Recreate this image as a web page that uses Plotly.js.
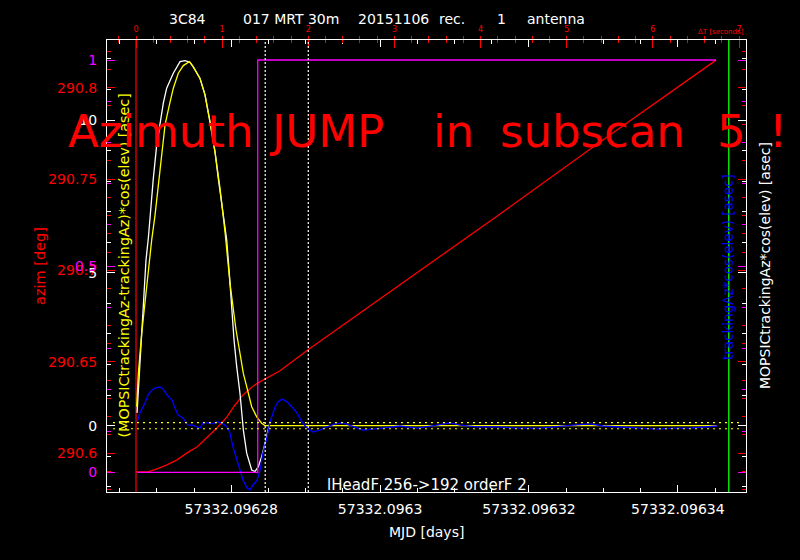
<!DOCTYPE html>
<html><head><meta charset="utf-8">
<script src="https://cdn.plot.ly/plotly-3.0.1.min.js"></script>
<style>html,body{margin:0;padding:0;background:#000;}#chart{width:800px;height:560px;}</style>
</head><body><div id="chart"></div>
<script>
// ---------- DATA (time in seconds since start of subscan, ΔT) ----------
const mjdAtT0 = 57332.0962672;            // MJD at ΔT = 0
const mjdTickValues = [57332.09628, 57332.09630, 57332.09632, 57332.09634];
const mjdTickLabels = ["57332.09628", "57332.0963", "57332.09632", "57332.09634"];
const mjdMinorStep = 0.000005;            // days

const azTickValues = [290.6, 290.65, 290.7, 290.75, 290.8];
const azTickLabels = ["290.6", "290.65", "290.7", "290.75", "290.8"];
const offTickValues = [0, 5, 10];
const offTickLabels = ["0", "5", "10"];
const flagTickValues = [0, 0.5, 1];
const flagTickLabels = ["0", "0.5", "1"];

// azimuth [deg]
const azT   = [0, 0.139, 0.244, 0.360, 0.476, 0.592, 0.708, 0.824, 0.940, 1.056, 1.149, 1.242, 1.347, 1.416, 1.521, 1.614, 1.672, 1.997, 2.159, 3.065, 4.226, 5.387, 6.733];
const azDeg = [290.5898, 290.5898, 290.5914, 290.5936, 290.5964, 290.6002, 290.6034, 290.6084, 290.6138, 290.6199, 290.6264, 290.6319, 290.6363, 290.6385, 290.6412, 290.6440, 290.6451, 290.6566, 290.6620, 290.6921, 290.7309, 290.7703, 290.8151];

// MOPSICtrackingAz*cos(elev) [asec]  (white)
const mopT = [0.012, 0.038, 0.066, 0.085, 0.116, 0.143, 0.163, 0.201, 0.240, 0.279, 0.317, 0.356, 0.433, 0.511, 0.569, 0.627, 0.665, 0.743, 0.801, 0.859, 0.917, 0.955, 0.998, 1.053, 1.083, 1.111, 1.138, 1.169, 1.207, 1.246, 1.285, 1.343, 1.381, 1.420, 1.459, 1.498, 1.536, 1.556];
const mopV = [0.42, 1.72, 3.13, 3.88, 5.42, 6.13, 6.89, 8.09, 9.18, 9.94, 10.55, 11.04, 11.53, 11.91, 11.94, 11.89, 11.74, 11.36, 10.82, 9.94, 8.96, 8.09, 7.12, 6.07, 4.99, 3.89, 2.80, 1.93, 1.06, -0.14, -0.90, -1.45, -1.50, -1.34, -1.01, -0.58, -0.14, 0.13];

// (MOPSICtrackingAz-trackingAz)*cos(elev) [asec]  (yellow)
const diffT = [0.008, 0.027, 0.066, 0.124, 0.182, 0.221, 0.259, 0.298, 0.337, 0.387, 0.433, 0.491, 0.549, 0.619, 0.665, 0.743, 0.801, 0.859, 0.917, 0.975, 1.033, 1.091, 1.123, 1.161, 1.207, 1.246, 1.285, 1.343, 1.401, 1.459, 1.498, 6.745];
const diffV = [0.62, 1.71, 3.02, 4.66, 6.07, 6.89, 7.87, 8.96, 9.84, 10.49, 11.04, 11.53, 11.78, 11.91, 11.74, 11.36, 10.82, 9.94, 8.96, 7.77, 6.35, 4.66, 3.89, 3.13, 2.37, 1.71, 1.28, 0.62, 0.29, 0.08, 0.00, 0.00];

// trackingAz*cos(elev) [asec]  (blue)
const trkT = [0.012, 0.046, 0.104, 0.139, 0.186, 0.221, 0.279, 0.313, 0.360, 0.418, 0.453, 0.488, 0.546, 0.604, 0.662, 0.708, 0.743, 0.778, 0.836, 0.882, 0.940, 0.998, 1.056, 1.091, 1.126, 1.173, 1.207, 1.242, 1.289, 1.323, 1.358, 1.405, 1.440, 1.474, 1.521, 1.556, 1.614, 1.648, 1.695, 1.753, 1.811, 1.869, 1.927, 1.985, 2.055, 2.136, 2.217, 2.310, 2.403, 2.508, 2.635, 2.751, 2.867, 3.065, 3.262, 3.378, 3.494, 3.645, 3.761, 3.959, 4.191, 4.423, 4.690, 5.073, 5.270, 5.421, 5.653, 5.851, 6.048, 6.234, 6.431, 6.745];
const trkV = [0.12, 0.42, 0.74, 1.00, 1.17, 1.23, 1.27, 1.20, 1.00, 0.84, 0.58, 0.35, 0.25, 0.02, 0.02, -0.04, -0.08, 0.09, 0.09, 0.06, 0.12, 0.09, -0.04, -0.24, -0.70, -1.12, -1.45, -1.78, -2.04, -2.10, -1.94, -1.78, -1.45, -0.89, -0.37, 0.12, 0.61, 0.78, 0.87, 0.78, 0.61, 0.42, 0.12, -0.08, -0.21, -0.14, -0.04, 0.06, 0.09, -0.01, -0.14, -0.11, -0.08, -0.01, -0.08, -0.04, 0.02, 0.09, 0.02, -0.04, -0.04, -0.08, -0.08, 0.02, 0.06, -0.01, -0.04, -0.08, -0.11, -0.08, -0.08, -0.01];

// subscan flag (magenta)
const flagT = [0.012, 1.413, 1.413, 6.733];
const flagV = [0, 0, 1, 1];

// markers
const tolerance = 0.1;                    // asec
const tolT = [-0.267, 7.01];
const startT = 0;
const windowT = [1.5, 2.0];
const endT = 6.881;

// ---------- LAYOUT ----------
const W = 800, H = 560, L = 107, R = 54, T = 40, B = 68;
const pw = W - L - R, ph = H - T - B;
const px = x => (x - L) / pw;
const py = y => 1 - (y - T) / ph;
const toSec = m => (m - mjdAtT0) * 86400;

const xRange = [-0.3367, 7.081];
const azRange = [290.5788, 290.8261];
const offRange = [-2.169, 12.617];
const flagRange = [-0.0478, 1.0485];

const RED = '#ff0000', MAG = '#ff00ff', YEL = '#ffff00', BLU = '#0000ff', GRN = '#00ff00', WHT = '#ffffff';
const FONT = 'DejaVu Sans';
const LW = 1.3;

const traces = [
  {x: flagT, y: flagV, xaxis: 'x', yaxis: 'y3', mode: 'lines', line: {color: MAG, width: LW}},
  {x: azT, y: azDeg, xaxis: 'x', yaxis: 'y', mode: 'lines', line: {color: RED, width: LW}},
  {x: mopT, y: mopV, xaxis: 'x', yaxis: 'y2', mode: 'lines', line: {color: WHT, width: LW}},
  {x: diffT, y: diffV, xaxis: 'x', yaxis: 'y2', mode: 'lines', line: {color: YEL, width: LW}},
  {x: tolT, y: tolT.map(() => tolerance), xaxis: 'x2', yaxis: 'y2', mode: 'lines', line: {color: YEL, width: 1.2, dash: '2px,4px'}},
  {x: tolT, y: tolT.map(() => -tolerance), xaxis: 'x3', yaxis: 'y2', mode: 'lines', line: {color: YEL, width: 1.2, dash: '2px,4px'}},
  {x: trkT, y: trkV, xaxis: 'x', yaxis: 'y2', mode: 'lines', line: {color: BLU, width: LW}}
].map(t => Object.assign(t, {showlegend: false, hoverinfo: 'skip'}));

const yCommon = {showgrid: false, zeroline: false, ticks: 'inside', ticklen: 8, tickwidth: 1,
  showline: true, linecolor: WHT, linewidth: 1, mirror: 'ticks', tickmode: 'array', ticklabelstandoff: 6};

const layout = {
  width: W, height: H,
  margin: {l: L, r: R, t: T, b: B, pad: 0},
  paper_bgcolor: '#000', plot_bgcolor: '#000',
  showlegend: false,
  font: {family: FONT, color: WHT},
  xaxis: {
    range: xRange, showgrid: false, zeroline: false,
    tickmode: 'array', tickvals: mjdTickValues.map(toSec), ticktext: mjdTickLabels,
    ticks: 'inside', ticklen: 7, tickcolor: WHT, tickwidth: 1,
    minor: {tickmode: 'linear', tick0: toSec(mjdTickValues[0]), dtick: mjdMinorStep * 86400, ticks: 'inside', ticklen: 4, tickcolor: WHT, showgrid: false},
    showline: true, linecolor: WHT, linewidth: 1, mirror: 'ticks',
    tickfont: {family: FONT, size: 14, color: WHT}, ticklabelstandoff: 4
  },
  xaxis2: {
    overlaying: 'x', side: 'top', anchor: 'y', range: xRange, showgrid: false, zeroline: false,
    tickmode: 'linear', tick0: 0, dtick: 1, ticks: 'outside', ticklen: 3, tickcolor: RED,
    minor: {tickmode: 'linear', tick0: 0, dtick: 0.2, ticks: 'outside', ticklen: 3, tickcolor: RED, showgrid: false},
    showline: false, tickfont: {family: FONT, size: 8, color: RED}, ticklabelstandoff: 1
  },
  xaxis3: {
    overlaying: 'x', side: 'top', anchor: 'y', range: xRange, showgrid: false, zeroline: false,
    tickmode: 'linear', tick0: 0, dtick: 1, ticks: 'inside', ticklen: 8, tickcolor: RED,
    minor: {tickmode: 'linear', tick0: 0, dtick: 0.2, ticks: 'inside', ticklen: 3, tickcolor: RED, showgrid: false},
    showline: false, showticklabels: false
  },
  yaxis: Object.assign({}, yCommon, {
    range: azRange, tickvals: azTickValues, ticktext: azTickLabels, tickcolor: RED,
    minor: {tickmode: 'linear', tick0: 290.6, dtick: 0.01, ticks: 'inside', ticklen: 4, tickcolor: RED, showgrid: false},
    tickfont: {family: FONT, size: 14, color: RED}
  }),
  yaxis2: Object.assign({}, yCommon, {
    overlaying: 'y', side: 'left', range: offRange, tickvals: offTickValues, ticktext: offTickLabels, tickcolor: WHT,
    minor: {tickmode: 'linear', tick0: 0, dtick: 1, ticks: 'inside', ticklen: 4, tickcolor: WHT, showgrid: false},
    tickfont: {family: FONT, size: 14, color: WHT}
  }),
  yaxis3: Object.assign({}, yCommon, {
    overlaying: 'y', side: 'left', range: flagRange, tickvals: flagTickValues, ticktext: flagTickLabels, tickcolor: MAG,
    minor: {tickmode: 'linear', tick0: 0, dtick: 0.1, ticks: 'inside', ticklen: 4, tickcolor: MAG, showgrid: false},
    tickfont: {family: FONT, size: 14, color: MAG}
  }),
  shapes: [
    {type: 'line', xref: 'x', yref: 'paper', x0: startT, x1: startT, y0: 0, y1: 1, line: {color: RED, width: 1.2}, layer: 'below'},
    {type: 'line', xref: 'x', yref: 'paper', x0: windowT[0], x1: windowT[0], y0: 0, y1: 1, line: {color: WHT, width: 1.2, dash: '2px,2px'}},
    {type: 'line', xref: 'x', yref: 'paper', x0: windowT[1], x1: windowT[1], y0: 0, y1: 1, line: {color: WHT, width: 1.2, dash: '2px,2px'}},
    {type: 'line', xref: 'x', yref: 'paper', x0: endT, x1: endT, y0: 0, y1: 1, line: {color: GRN, width: 1.3}}
  ],
  annotations: []
};

function note(text, x, y, opts) {
  layout.annotations.push(Object.assign({
    text: text, xref: 'paper', yref: 'paper', x: px(x), y: py(y),
    xanchor: 'left', yanchor: 'middle', showarrow: false, borderpad: 0,
    font: {family: FONT, size: 14, color: WHT}
  }, opts || {}));
}

// header
note('3C84', 168, 18.7);
note('017 MRT 30m', 242, 18.7);
note('20151106', 357, 18.7);
note('rec.', 438, 18.7);
note('1', 496, 18.7);
note('antenna', 526, 18.7);
note('ΔT [seconds]', 745, 32, {xanchor: 'right', font: {family: FONT, size: 7, color: RED}});

// axis titles
note('MJD [days]', 426.5, 532, {xanchor: 'center'});
note('azim [deg]', 40, 266, {xanchor: 'center', textangle: -90, font: {family: FONT, size: 14.5, color: RED}});
note('(MOPSICtrackingAz-trackingAz)*cos(elev) [asec]', 123.5, 266, {xanchor: 'center', textangle: -90, font: {family: FONT, size: 14.3, color: YEL}});
note('trackingAz*cos(elev) [asec]', 727.5, 267.5, {xanchor: 'center', textangle: -90, font: {family: FONT, size: 13.5, color: BLU}});
note('MOPSICtrackingAz*cos(elev) [asec]', 765, 266, {xanchor: 'center', textangle: -90, font: {family: FONT, size: 14, color: WHT}});
note('lHeadF 256->192 orderF 2', 426.5, 485, {xanchor: 'center', font: {family: FONT, size: 15, color: WHT}});

// warning
const big = {family: FONT, size: 45, color: RED};
note('Azimuth', 67, 131.5, {font: big});
note('JUMP', 268, 131.5, {font: big});
note('in', 432, 131.5, {font: big});
note('subscan', 499, 131.5, {font: big});
note('5', 716, 131.5, {font: big});
note('!', 768, 131.5, {font: big});

Plotly.newPlot('chart', traces, layout, {displayModeBar: false, staticPlot: true});
</script>
</body></html>
